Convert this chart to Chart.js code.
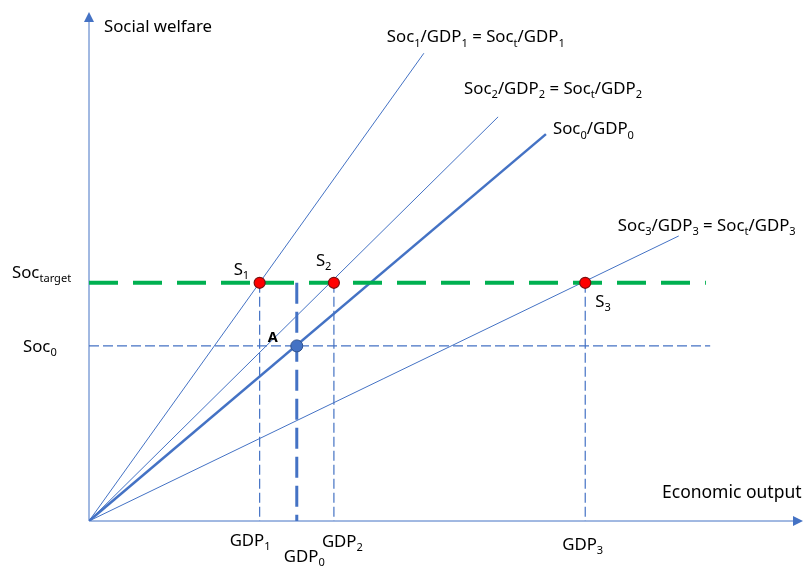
<!DOCTYPE html>
<html>
<head>
<meta charset="utf-8">
<script src="https://cdn.jsdelivr.net/npm/chart.js@4.4.1/dist/chart.umd.min.js"></script>
<style>
  html, body { margin: 0; padding: 0; background: #ffffff; }
  #c { display: block; }
</style>
</head>
<body>
<canvas id="c" width="810" height="566"></canvas>
<script>
// ---- data (arbitrary units) ----
const rayLabels = ['Soc_{1}/GDP_{1} = Soc_{t}/GDP_{1}', 'Soc_{2}/GDP_{2} = Soc_{t}/GDP_{2}', 'Soc_{0}/GDP_{0}', 'Soc_{3}/GDP_{3} = Soc_{t}/GDP_{3}'];
const rayEndX = [46.9, 57.3, 64.0, 82.6];
const rayEndY = [91.9, 79.4, 76.0, 56.0];

const gdpLabels = ['GDP_{1}', 'GDP_{0}', 'GDP_{2}', 'GDP_{3}'];
const gdpValues = [23.9, 29.1, 34.3, 69.5];

const socLabels = ['Soc_{target}', 'Soc_{0}'];
const socValues = [46.8, 34.4];
const socLineEnd = [86.4, 87.0];

const pointLabels = ['S_{1}', 'S_{2}', 'S_{3}'];
const pointX = [23.9, 34.3, 69.5];
const pointY = [46.8, 46.8, 46.8];

const pointALabel = 'A';
const pointAX = 29.1;
const pointAY = 34.4;

const axisLabels = ['Economic output', 'Social welfare'];

// ---- styles ----
const BLUE = '#4472C4';
const GREEN = '#00B050';
const FONT = '"Noto Sans", "Liberation Sans", sans-serif';

const datasets = [];
// points (on top)
datasets.push({
  label: 'S', data: pointX.map((x, i) => ({ x, y: pointY[i] })),
  showLine: false, pointRadius: 5.5, pointBackgroundColor: '#FF0000',
  pointBorderColor: '#7a1010', pointBorderWidth: 1.2, order: 0
});
datasets.push({
  label: 'A', data: [{ x: pointAX, y: pointAY }],
  showLine: false, pointRadius: 6, pointBackgroundColor: BLUE,
  pointBorderColor: '#2F528F', pointBorderWidth: 1, order: 0
});
// green target line
datasets.push({
  label: 'target', data: [{ x: 0, y: socValues[0] }, { x: socLineEnd[0], y: socValues[0] }],
  showLine: true, borderColor: GREEN, borderWidth: 4, borderDash: [29, 15],
  pointRadius: 0, order: 1
});
// rays
rayEndX.forEach((ex, i) => {
  datasets.push({
    label: 'ray' + i, data: [{ x: 0, y: 0 }, { x: ex, y: rayEndY[i] }],
    showLine: true, borderColor: BLUE, borderWidth: i === 2 ? 2.5 : 1,
    pointRadius: 0, order: 2
  });
});
// Soc0 dashed horizontal
datasets.push({
  label: 'soc0', data: [{ x: 0, y: socValues[1] }, { x: socLineEnd[1], y: socValues[1] }],
  showLine: true, borderColor: BLUE, borderWidth: 1.2, borderDash: [10, 4],
  pointRadius: 0, order: 3
});
// vertical dashed lines
gdpValues.forEach((g, i) => {
  const thick = i === 1;
  datasets.push({
    label: 'v' + i, data: [{ x: g, y: socValues[0] }, { x: g, y: 0 }],
    showLine: true, borderColor: BLUE, borderWidth: thick ? 3 : 1.2,
    borderDash: thick ? [21, 8] : [10, 4], pointRadius: 0, order: 3
  });
});

function drawRich(ctx, str, x, y, size, opts) {
  opts = opts || {};
  const weight = opts.bold ? 'bold ' : '';
  const parts = [];
  const re = /_\{([^}]*)\}/g;
  let last = 0, m;
  while ((m = re.exec(str)) !== null) {
    if (m.index > last) parts.push({ t: str.slice(last, m.index), sub: false });
    parts.push({ t: m[1], sub: true });
    last = re.lastIndex;
  }
  if (last < str.length) parts.push({ t: str.slice(last), sub: false });
  const subSize = size * 0.66;
  ctx.save();
  ctx.fillStyle = '#000000';
  ctx.textBaseline = 'alphabetic';
  ctx.textAlign = 'left';
  let cx = x;
  parts.forEach(p => {
    ctx.font = weight + (p.sub ? subSize : size) + 'px ' + FONT;
    ctx.fillText(p.t, cx, p.sub ? y + size * 0.26 : y);
    cx += ctx.measureText(p.t).width;
  });
  ctx.restore();
}

const diagramPlugin = {
  id: 'diagram',
  beforeDatasetsDraw(chart) {
    const { ctx } = chart;
    const xs = chart.scales.x, ys = chart.scales.y;
    const x0 = xs.getPixelForValue(0), y0 = ys.getPixelForValue(0);
    const xe = xs.getPixelForValue(100), ye = ys.getPixelForValue(100);
    ctx.save();
    ctx.strokeStyle = BLUE; ctx.fillStyle = BLUE; ctx.lineWidth = 1;
    ctx.beginPath();
    ctx.moveTo(x0, y0); ctx.lineTo(xe - 8, y0);
    ctx.moveTo(x0, y0); ctx.lineTo(x0, ye + 8);
    ctx.stroke();
    ctx.beginPath();
    ctx.moveTo(xe, y0); ctx.lineTo(xe - 10, y0 - 5); ctx.lineTo(xe - 10, y0 + 5); ctx.closePath();
    ctx.fill();
    ctx.beginPath();
    ctx.moveTo(x0, ye); ctx.lineTo(x0 - 5, ye + 10); ctx.lineTo(x0 + 5, ye + 10); ctx.closePath();
    ctx.fill();
    ctx.restore();
  },
  afterDatasetsDraw(chart) {
    const { ctx } = chart;
    const xs = chart.scales.x, ys = chart.scales.y;
    const px = v => xs.getPixelForValue(v);
    const py = v => ys.getPixelForValue(v);
    const S = 16.8;
    // axis titles
    drawRich(ctx, axisLabels[1], px(0) + 15, py(100) + 20, S);
    drawRich(ctx, axisLabels[0], px(100) - 141, py(0) - 23, 17.5);
    // ray labels
    const rayOff = [[-37, -11], [-34, -23], [7, 0], [-61, -5]];
    rayLabels.forEach((t, i) => {
      drawRich(ctx, t, px(rayEndX[i]) + rayOff[i][0], py(rayEndY[i]) + rayOff[i][1], S);
    });
    // GDP tick labels
    const gdpOff = [[-30, 25], [-13, 41], [-12, 26], [-23, 29]];
    gdpLabels.forEach((t, i) => {
      drawRich(ctx, t, px(gdpValues[i]) + gdpOff[i][0], py(0) + gdpOff[i][1], S);
    });
    // Soc labels
    const socOff = [12, 23];
    const socDy = [-5, 6];
    socLabels.forEach((t, i) => {
      drawRich(ctx, t, socOff[i], py(socValues[i]) + socDy[i], S);
    });
    // point labels
    const ptOff = [[-26, -8], [-18, -17], [10, 24]];
    pointLabels.forEach((t, i) => {
      drawRich(ctx, t, px(pointX[i]) + ptOff[i][0], py(pointY[i]) + ptOff[i][1], S);
    });
    drawRich(ctx, pointALabel, px(pointAX) - 29, py(pointAY) - 4, 14.5, { bold: true });
  }
};

new Chart(document.getElementById('c'), {
  type: 'scatter',
  data: { datasets },
  options: {
    responsive: false,
    animation: false,
    layout: { padding: { left: 89, right: 7, top: 12, bottom: 45 } },
    scales: {
      x: { type: 'linear', min: 0, max: 100, display: false },
      y: { type: 'linear', min: 0, max: 100, display: false }
    },
    plugins: { legend: { display: false }, tooltip: { enabled: false } },
    elements: { line: { tension: 0, borderCapStyle: 'butt' } }
  },
  plugins: [diagramPlugin]
});
</script>
</body>
</html>
